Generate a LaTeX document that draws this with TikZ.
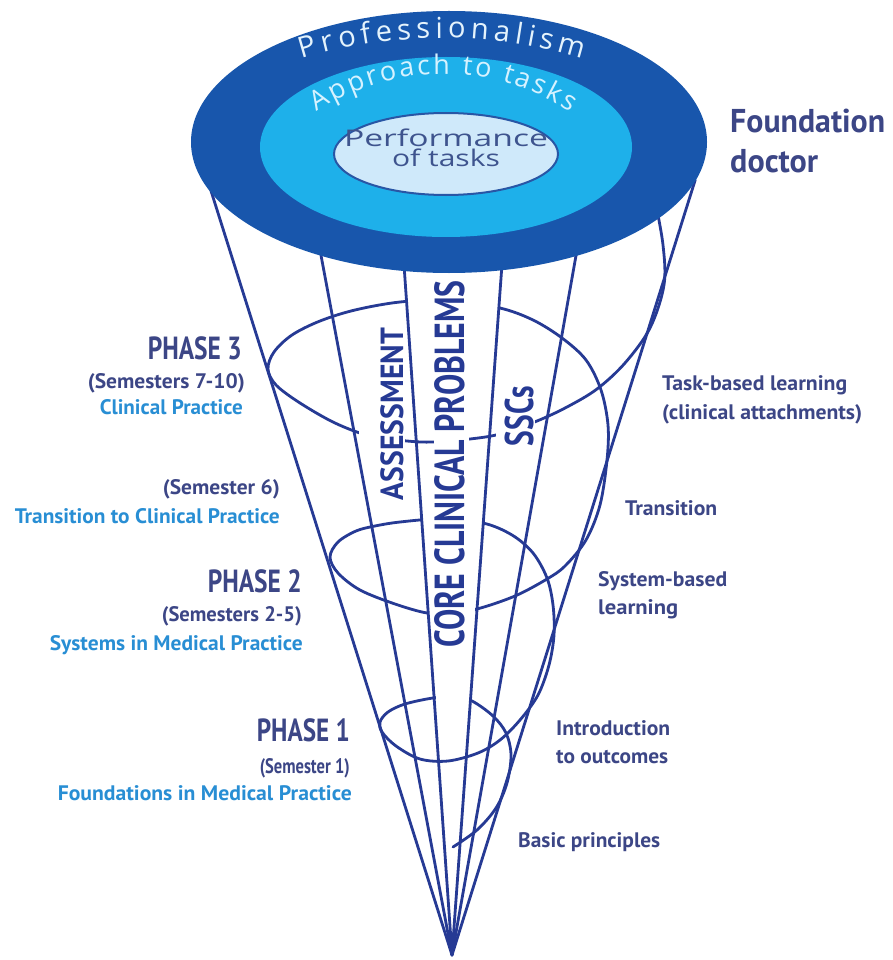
\documentclass[tikz,border=0pt]{standalone}
\usepackage{fontspec}
\setmainfont{PT Sans}
\newfontfamily\opsans{Open Sans}
\usetikzlibrary{decorations.text}
\definecolor{linecol}{RGB}{38,58,148}
\definecolor{outerblue}{RGB}{24,86,172}
\definecolor{ringcyan}{RGB}{30,176,234}
\definecolor{innerfill}{RGB}{207,233,250}
\definecolor{innerline}{RGB}{40,86,165}
\definecolor{proftext}{RGB}{228,243,252}
\definecolor{apptext}{RGB}{214,242,255}
\definecolor{perftext}{RGB}{62,84,142}
\definecolor{navytext}{RGB}{60,70,134}
\definecolor{lighttext}{RGB}{40,142,212}
\newlength\fitnat
\newcommand\fitw[2]{\settowidth\fitnat{#2}\pgfmathsetmacro\fitratio{#1/\fitnat}\scalebox{\fitratio}[1]{#2}}
\tikzset{
  cone/.style={draw=linecol, line width=2.8pt, line cap=round, line join=round},
  lab/.style={inner sep=0pt, font=\bfseries\fontsize{21}{21}\selectfont, text=navytext},
  lablight/.style={lab, text=lighttext},
  phaselab/.style={inner sep=0pt, font=\bfseries\fontsize{32}{32}\selectfont, text=navytext},
  biglab/.style={inner sep=0pt, font=\bfseries\fontsize{33}{33}\selectfont, text=navytext},
  vlab/.style={inner sep=0pt, rotate=90, text=linecol},
  perflab/.style={inner sep=0pt, text=perftext, font=\opsans\fontsize{23}{23}\selectfont, anchor=base},
  maskbox/.style={fill=white}
}
\begin{document}
\begin{tikzpicture}[x=1pt,y=-1pt]
\useasboundingbox (0,0) rectangle (892,960);
\fill[white] (0,0) rectangle (892,960);

% spiral
\draw[cone] plot[smooth, tension=0.55] coordinates {
(655,200) (663,245) (664,285) (650,328) (625,363) (597,389) (567,407) (537,421)
(500,434) (470,439) (433,442) (407,441) (370,436) (335,423) (300,403) (276,385)
(268,369) (274,352) (292,335) (320,321) (355,310) (400,302) (450,300) (500,308)
(533,320) (562,338) (586,360) (601,390) (608,425) (607,460) (600,505) (586,540)
(565,566) (547,579) (515,596) (477,609) (450,613) (427,613) (395,604) (360,590)
(338,573) (330,557) (338,542) (356,531) (375,526) (400,522) (440,519) (483,523)
(512,535) (533,553) (547,578) (553,605) (554,635) (549,665) (538,695) (520,720)
(500,740) (478,753) (448,761) (420,759) (396,746) (382,732) (380,722) (388,712)
(405,704) (433,698) (455,697) (472,701) (493,716) (506,733) (511,755) (507,783)
(496,808) (477,830) (453,847)};

% gaps in the spiral
\fill[maskbox] (359,420) rectangle (405,455);
\fill[maskbox] (434,428) rectangle (469,455);
\fill[maskbox] (496,410) rectangle (535,447);
\fill[maskbox] (408,290) rectangle (498,322);
\fill[maskbox] (423,510) rectangle (482,535);
\fill[maskbox] (429,600) rectangle (475,625);
\fill[maskbox] (436,690) rectangle (469,708);

% radial lines
\coordinate (apex) at (452,955);
\coordinate (t1) at (207.6,180);
\coordinate (t2) at (306.9,180);
\coordinate (t3) at (398.1,180);
\coordinate (t4) at (508.1,180);
\coordinate (t5) at (589.4,180);
\coordinate (t6) at (695.2,180);
\foreach \i in {1,...,6} \draw[cone] (apex) -- (t\i);

% top ellipses
\fill[outerblue] (449,142) ellipse [x radius=258pt, y radius=131pt];
\fill[ringcyan] (446,147) ellipse [x radius=186pt, y radius=90pt];
\filldraw[fill=innerfill, draw=innerline, line width=2pt] (446,154) ellipse [x radius=112pt, y radius=41pt];

\path[decorate, decoration={text along path, text={|\opsans\fontsize{29}{29}\selectfont\color{proftext}|Professionalism}, text align={fit to path}}]
  (302,59) arc[start angle=107, end angle=73, radius=480pt];
\path[decorate, decoration={text along path, text={|\opsans\fontsize{27}{27}\selectfont\color{apptext}|Approach to tasks}, text align={fit to path}}]
  (317,112) arc[start angle=123.4, end angle=56.6, radius=230pt];
\node[perflab] (perf1) at (446,147) {\fitw{204}{Performance}};
\node[perflab] (perf2) at (446,167) {\fitw{108}{of tasks}};

% vertical labels
\node[vlab, font=\bfseries\fontsize{32}{32}\selectfont] (assess) at (392,414) {\fitw{172}{ASSESSMENT}};
\node[vlab, font=\bfseries\fontsize{42}{42}\selectfont] (core) at (450,464) {\fitw{367}{CORE CLINICAL PROBLEMS}};
\node[vlab, font=\bfseries\fontsize{40}{40}\selectfont] (sscs) at (519,416) {\fitw{60}{SSCs}};

% right labels
\node[biglab, anchor=base west] (fd1) at (730,133) {\fitw{155}{Foundation}};
\node[biglab, anchor=base west] (fd2) at (730,172) {\fitw{88}{doctor}};
\node[lab, anchor=base west] (tb1) at (662,390) {\fitw{185}{Task-based learning}};
\node[lab, anchor=base west] (tb2) at (662,419) {\fitw{200}{(clinical attachments)}};
\node[lab, anchor=base west] (tr) at (625,515) {\fitw{92}{Transition}};
\node[lab, anchor=base west] (sb1) at (598,586) {\fitw{129}{System-based}};
\node[lab, anchor=base west] (sb2) at (598,614) {\fitw{80}{learning}};
\node[lab, anchor=base west] (io1) at (556,735) {\fitw{114}{Introduction}};
\node[lab, anchor=base west] (io2) at (556,763) {\fitw{112}{to outcomes}};
\node[lab, anchor=base west] (bp) at (518,847) {\fitw{142}{Basic principles}};

% left labels
\node[phaselab, anchor=base east] (p3a) at (242,359) {\fitw{94}{PHASE 3}};
\node[lab, anchor=base east] (p3b) at (245,388) {\fitw{157}{(Semesters 7-10)}};
\node[lablight, anchor=base east] (p3c) at (243,414) {\fitw{143}{Clinical Practice}};
\node[lab, anchor=base east] (s6a) at (280,494) {\fitw{117}{(Semester 6)}};
\node[lablight, anchor=base east] (s6b) at (280,523) {\fitw{265}{Transition to Clinical Practice}};
\node[phaselab, anchor=base east] (p2a) at (302,592) {\fitw{94}{PHASE 2}};
\node[lab, anchor=base east] (p2b) at (302,621) {\fitw{140}{(Semesters 2-5)}};
\node[lablight, anchor=base east] (p2c) at (303,650) {\fitw{253}{Systems in Medical Practice}};
\node[phaselab, anchor=base east] (p1a) at (350,741) {\fitw{93}{PHASE 1}};
\node[lab, anchor=base east] (p1b) at (350,773) {\fitw{90}{(Semester 1)}};
\node[lablight, anchor=base east] (p1c) at (352,800) {\fitw{294}{Foundations in Medical Practice}};
\end{tikzpicture}
\end{document}
